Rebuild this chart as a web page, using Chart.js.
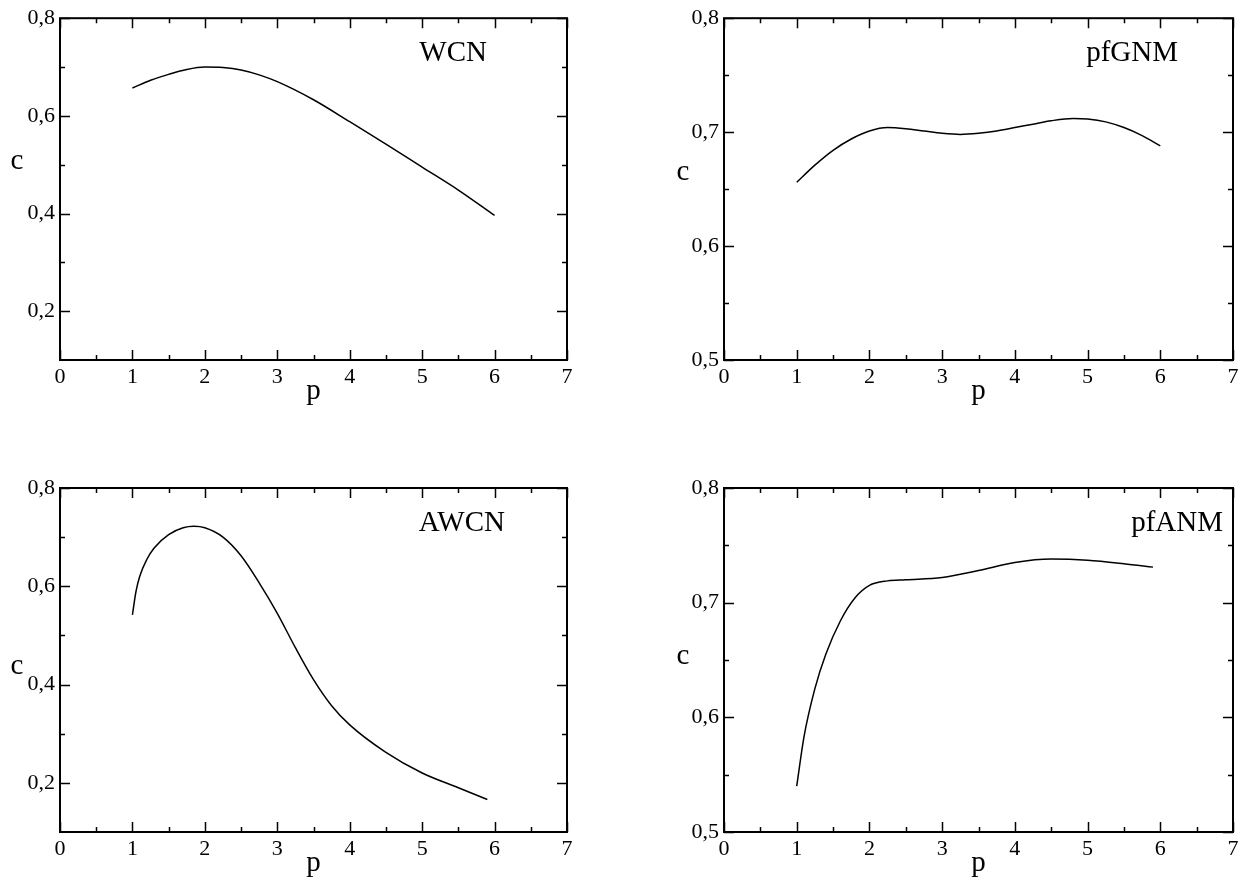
<!DOCTYPE html>
<html>
<head>
<meta charset="utf-8">
<title>c vs p</title>
<script src="https://cdn.jsdelivr.net/npm/chart.js@4.4.1/dist/chart.umd.min.js"></script>
<style>
    body { margin: 0; background: #fff; width: 1251px; height: 884px; overflow: hidden; }
    .panel { position: absolute; }
</style>
</head>
<body>
<canvas id="wcn" class="panel" width="640" height="442" style="left:0;top:0"></canvas>
<canvas id="pfgnm" class="panel" width="611" height="442" style="left:640px;top:0"></canvas>
<canvas id="awcn" class="panel" width="640" height="442" style="left:0;top:442px"></canvas>
<canvas id="pfanm" class="panel" width="611" height="442" style="left:640px;top:442px"></canvas>
<script>
// x axis (p) ticks, shared by all four panels
const xMajor = [0, 1, 2, 3, 4, 5, 6, 7];
const xMinor = [0.5, 1.5, 2.5, 3.5, 4.5, 5.5, 6.5];

// WCN
const wcnP = [1, 1.25, 1.5, 1.75, 2, 2.25, 2.5, 2.75, 3, 3.5, 4, 4.5, 5, 5.5, 6];
const wcnC = [0.657, 0.673, 0.685, 0.695, 0.700, 0.699, 0.694, 0.684, 0.670, 0.633, 0.588, 0.542, 0.495, 0.448, 0.396];

// pfGNM
const pfgnmP = [1, 1.25, 1.5, 1.75, 2, 2.25, 2.5, 2.75, 3, 3.25, 3.5, 3.75, 4, 4.25, 4.5, 4.8, 5, 5.25, 5.5, 5.75, 6];
const pfgnmC = [0.656, 0.671, 0.684, 0.694, 0.701, 0.704, 0.703, 0.701, 0.699, 0.698, 0.699, 0.701, 0.704, 0.707, 0.710, 0.712, 0.7115, 0.709, 0.704, 0.697, 0.688];

// AWCN
const awcnP = [1, 1.05, 1.1, 1.2, 1.3, 1.5, 1.7, 1.85, 2, 2.25, 2.5, 2.75, 3, 3.25, 3.5, 3.75, 4, 4.5, 5, 5.5, 5.9];
const awcnC = [0.542, 0.590, 0.620, 0.655, 0.678, 0.705, 0.719, 0.722, 0.719, 0.700, 0.662, 0.607, 0.545, 0.475, 0.410, 0.357, 0.318, 0.262, 0.220, 0.190, 0.166];

// pfANM
const pfanmP = [1, 1.1, 1.25, 1.4, 1.6, 1.8, 2, 2.25, 2.5, 3, 3.5, 4, 4.5, 5, 5.5, 5.9];
const pfanmC = [0.540, 0.583, 0.625, 0.655, 0.684, 0.704, 0.715, 0.719, 0.720, 0.722, 0.728, 0.735, 0.738, 0.737, 0.734, 0.731];

// y axis (c) ticks
const yMajorWide = [0.2, 0.4, 0.6, 0.8];
const yMinorWide = [0.3, 0.5, 0.7];
const yMajorNarrow = [0.5, 0.6, 0.7, 0.8];
const yMinorNarrow = [0.55, 0.65, 0.75];

const serif = '"Liberation Serif", "DejaVu Serif", serif';

// frame, inward ticks on all four sides, and the text labels
const framePlugin = {
    id: 'frame',
    afterDraw(chart) {
        const o = chart.options.plugins.frame;
        const ctx = chart.ctx;
        const a = chart.chartArea;
        const xs = chart.scales.x, ys = chart.scales.y;
        ctx.save();
        ctx.strokeStyle = '#000';
        ctx.lineWidth = 1.5;
        ctx.beginPath();
        xMajor.concat(xMinor).forEach(v => {
            const len = xMajor.includes(v) ? 10 : 5;
            const px = Math.round(xs.getPixelForValue(v)) + 0.5;
            ctx.moveTo(px, a.bottom); ctx.lineTo(px, a.bottom - len);
            ctx.moveTo(px, a.top); ctx.lineTo(px, a.top + len);
        });
        o.yMajor.concat(o.yMinor).forEach(v => {
            const len = o.yMajor.includes(v) ? 10 : 5;
            const py = Math.round(ys.getPixelForValue(v)) + 0.5;
            ctx.moveTo(a.left, py); ctx.lineTo(a.left + len, py);
            ctx.moveTo(a.right, py); ctx.lineTo(a.right - len, py);
        });
        ctx.stroke();
        ctx.lineWidth = 2;
        ctx.strokeRect(a.left, a.top, a.right - a.left, a.bottom - a.top);

        ctx.fillStyle = '#000';
        ctx.font = '29px ' + serif;
        ctx.textBaseline = 'alphabetic';
        ctx.textAlign = 'right';
        ctx.fillText(o.name, a.right - o.nameRight, a.top + 43);
        ctx.textAlign = 'center';
        ctx.textBaseline = 'middle';
        ctx.fillText('c', a.left - o.cLeft, a.top + o.cFrac * (a.bottom - a.top));
        ctx.textBaseline = 'alphabetic';
        ctx.fillText('p', (a.left + a.right) / 2, a.bottom + 39);
        ctx.restore();
    }
};

function makePanel(id, ps, cs, opts) {
    const ctx = document.getElementById(id).getContext('2d');
    return new Chart(ctx, {
        type: 'scatter',
        data: {
            datasets: [{
                data: ps.map((p, i) => ({ x: p, y: cs[i] })),
                showLine: true,
                borderColor: '#000',
                borderWidth: 1.5,
                pointRadius: 0,
                cubicInterpolationMode: 'monotone'
            }]
        },
        options: {
            responsive: false,
            animation: false,
            devicePixelRatio: 1,
            layout: { padding: { left: 0, top: opts.padTop, right: opts.padRight, bottom: 0 } },
            plugins: {
                legend: { display: false },
                tooltip: { enabled: false },
                frame: opts
            },
            scales: {
                x: {
                    type: 'linear', min: 0, max: 7,
                    grid: { display: false, drawTicks: false },
                    border: { display: false },
                    afterBuildTicks: s => { s.ticks = xMajor.map(v => ({ value: v })); },
                    afterFit: s => { s.height = opts.xHeight; },
                    ticks: {
                        color: '#000', padding: 4, maxRotation: 0,
                        font: { family: serif, size: 22 },
                        callback: v => String(v)
                    }
                },
                y: {
                    type: 'linear', min: opts.yMin, max: opts.yMax,
                    grid: { display: false, drawTicks: false },
                    border: { display: false },
                    afterBuildTicks: s => { s.ticks = opts.yMajor.map(v => ({ value: v })); },
                    afterFit: s => { s.width = opts.yWidth; },
                    ticks: {
                        color: '#000', padding: 5,
                        font: { family: serif, size: 22 },
                        callback: v => v.toFixed(1).replace('.', ',')
                    }
                }
            }
        },
        plugins: [framePlugin]
    });
}

makePanel('wcn', wcnP, wcnC, {
    name: 'WCN', yMin: 0.1, yMax: 0.8, yMajor: yMajorWide, yMinor: yMinorWide,
    padTop: 16, padRight: 73, yWidth: 60, xHeight: 82, nameRight: 80, cLeft: 43, cFrac: 0.42
});
makePanel('pfgnm', pfgnmP, pfgnmC, {
    name: 'pfGNM', yMin: 0.5, yMax: 0.8, yMajor: yMajorNarrow, yMinor: yMinorNarrow,
    padTop: 16, padRight: 18, yWidth: 84, xHeight: 82, nameRight: 55, cLeft: 41, cFrac: 0.45
});
makePanel('awcn', awcnP, awcnC, {
    name: 'AWCN', yMin: 0.1, yMax: 0.8, yMajor: yMajorWide, yMinor: yMinorWide,
    padTop: 46, padRight: 73, yWidth: 60, xHeight: 52, nameRight: 62, cLeft: 43, cFrac: 0.52
});
makePanel('pfanm', pfanmP, pfanmC, {
    name: 'pfANM', yMin: 0.5, yMax: 0.8, yMajor: yMajorNarrow, yMinor: yMinorNarrow,
    padTop: 46, padRight: 18, yWidth: 84, xHeight: 52, nameRight: 10, cLeft: 41, cFrac: 0.49
});
</script>
</body>
</html>
